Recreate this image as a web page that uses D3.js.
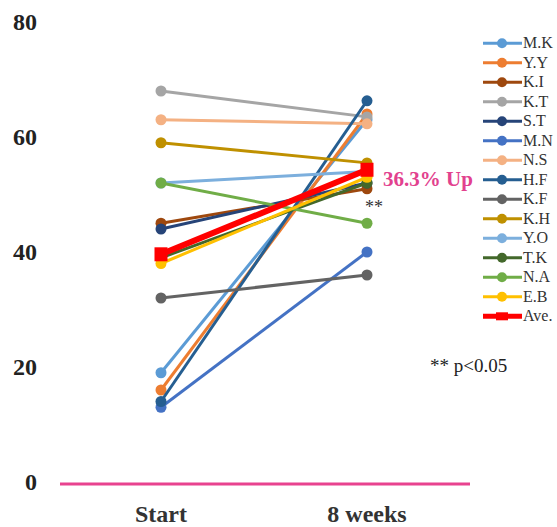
<!DOCTYPE html>
<html>
<head>
<meta charset="utf-8">
<script src="https://cdn.jsdelivr.net/npm/d3@7"></script>
<style>
body { margin: 0; background: #fff; }
text { font-family: "Liberation Serif", "Times New Roman", serif; }
</style>
</head>
<body>
<svg width="557" height="527"></svg>
<script>
const WIDTH = 557
const HEIGHT = 527

const timepoints = ['Start', '8 weeks']
const names = ['M.K', 'Y.Y', 'K.I', 'K.T', 'S.T', 'M.N', 'N.S', 'H.F', 'K.F', 'K.H', 'Y.O', 'T.K', 'N.A', 'E.B']
const startValues = [19, 16, 45, 68, 44, 13, 63, 14, 32, 59, 52, 39, 52, 38]
const weekValues = [63, 64, 51, 63.5, 52, 40, 62.3, 66.3, 36, 55.5, 54, 52, 45, 53]
const colors = ['#5B9BD5', '#ED7D31', '#9E480E', '#A5A5A5', '#264478', '#4472C4', '#F4B183', '#255E91',
                '#636363', '#BF9000', '#7CAFDD', '#43682B', '#70AD47', '#FFC000']
const aveValues = [39.6, 54.3]
const yTicks = [0, 20, 40, 60, 80]

const svg = d3.select('svg')

const x = d3.scalePoint().domain(timepoints).range([161, 367])
const y = d3.scaleLinear().domain([0, 80]).range([482, 22])

// y axis labels only
svg.append('g')
    .selectAll('text')
    .data(yTicks)
    .enter().append('text')
    .attr('x', 37)
    .attr('y', d => y(d))
    .attr('dy', '0.35em')
    .attr('text-anchor', 'end')
    .attr('font-size', 24)
    .attr('font-weight', 'bold')
    .attr('fill', '#222')
    .text(d => d)

// zero line
svg.append('line')
    .attr('x1', 60).attr('x2', 470)
    .attr('y1', y(0) + 2).attr('y2', y(0) + 2)
    .attr('stroke', '#E8438F')
    .attr('stroke-width', 3)

// x labels
svg.append('g')
    .selectAll('text')
    .data(timepoints)
    .enter().append('text')
    .attr('x', d => x(d))
    .attr('y', 522)
    .attr('text-anchor', 'middle')
    .attr('font-size', 24)
    .attr('font-weight', 'bold')
    .attr('fill', '#333')
    .text(d => d)

const series = names.map((n, i) => ({
    name: n,
    color: colors[i],
    values: [startValues[i], weekValues[i]]
}))

const line = d3.line()
    .x((d, i) => x(timepoints[i]))
    .y(d => y(d))

const g = svg.append('g')
series.forEach(s => {
    g.append('path')
        .attr('d', line(s.values))
        .attr('fill', 'none')
        .attr('stroke', s.color)
        .attr('stroke-width', 3)
    g.selectAll(null)
        .data(s.values)
        .enter().append('circle')
        .attr('cx', (d, i) => x(timepoints[i]))
        .attr('cy', d => y(d))
        .attr('r', 5.5)
        .attr('fill', s.color)
})

// average
svg.append('path')
    .attr('d', line(aveValues))
    .attr('fill', 'none')
    .attr('stroke', '#FF0000')
    .attr('stroke-width', 6)
svg.selectAll('rect.ave')
    .data(aveValues)
    .enter().append('rect')
    .attr('class', 'ave')
    .attr('x', (d, i) => x(timepoints[i]) - 6.5)
    .attr('y', d => y(d) - 7)
    .attr('width', 13)
    .attr('height', 14)
    .attr('fill', '#FF0000')

// annotations
svg.append('text')
    .attr('x', 383).attr('y', 186)
    .attr('font-size', 21)
    .attr('font-weight', 'bold')
    .attr('fill', '#E2418E')
    .text('36.3% Up')

svg.append('text')
    .attr('x', 365).attr('y', 213)
    .attr('font-size', 18)
    .attr('fill', '#333')
    .text('**')

svg.append('text')
    .attr('x', 430).attr('y', 372)
    .attr('font-size', 19)
    .attr('fill', '#222')
    .text('** p<0.05')

// legend
const legendItems = series.map(s => ({ name: s.name, color: s.color, ave: false }))
legendItems.push({ name: 'Ave.', color: '#FF0000', ave: true })

const legend = svg.append('g')
    .selectAll('g')
    .data(legendItems)
    .enter().append('g')
    .attr('transform', (d, i) => `translate(0, ${43.3 + i * 19.5})`)

legend.append('line')
    .attr('x1', 483).attr('x2', 522)
    .attr('stroke', d => d.color)
    .attr('stroke-width', d => d.ave ? 5 : 3)

legend.filter(d => !d.ave).append('circle')
    .attr('cx', 502)
    .attr('r', 5)
    .attr('fill', d => d.color)

legend.filter(d => d.ave).append('rect')
    .attr('x', 496).attr('y', -4)
    .attr('width', 12).attr('height', 8)
    .attr('fill', '#FF0000')

legend.append('text')
    .attr('x', 523)
    .attr('y', 5)
    .attr('font-size', 16)
    .attr('fill', '#333')
    .text(d => d.name)
</script>
</body>
</html>
